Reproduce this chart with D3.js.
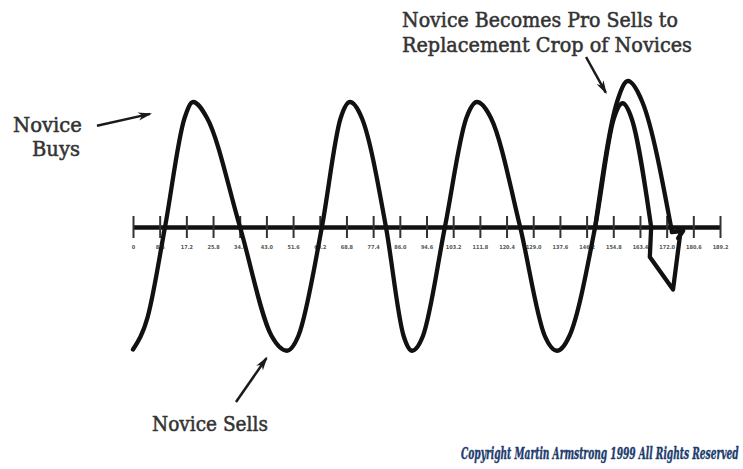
<!DOCTYPE html>
<html>
<head>
<meta charset="utf-8">
<script src="https://cdn.jsdelivr.net/npm/d3@7/dist/d3.min.js"></script>
<style>
  html, body { margin: 0; padding: 0; background: #fff; }
  svg { display: block; }
</style>
</head>
<body>
<svg id="chart" width="743" height="469"></svg>
<script>
// Cycle positions along the time axis (tick index units)
const tickIndex = [0,1,2,3,4,5,6,7,8,9,10,11,12,13,14,15,16,17,18,19,20,21,22];
const tickLabels = ["0","8.6","17.2","25.8","34.4","43.0","51.6","60.2","68.8","77.4","86.0",
  "94.6","103.2","111.8","120.4","129.0","137.6","146.2","154.8","163.4","172.0","180.6","189.2"];

// Main swing: turning points, shoulders and axis crossings (position, relative amplitude)
const waveU = [0, 0.55, 1.20, 1.93, 2.25, 2.78, 4.01, 5.19, 5.77, 6.20, 7.08, 7.78, 8.13, 8.58,
  9.48, 10.14, 10.46, 10.87, 11.69, 12.49, 12.89, 13.42, 14.51, 15.43, 15.89, 16.36, 17.32,
  18.01, 18.35, 18.70, 19.42];
const waveV = [-0.98, -0.72, 0, 0.87, 1.0, 0.87, 0, -0.87, -0.99, -0.87, 0, 0.87, 1.0, 0.87,
  0, -0.87, -0.99, -0.87, 0, 0.87, 1.0, 0.87, 0, -0.87, -0.99, -0.87, 0,
  0.86, 0.99, 0.86, 0];

// Taller final swing (the novice turned professional)
const proU = [17.32, 18.14, 18.55, 19.09, 20.20];
const proV = [0, 1.0, 1.168, 1.0, -0.04];

// Hook closing the last swing back toward the axis
const tailU = [19.42, 19.37, 20.24, 20.50];
const tailV = [0, -0.24, -0.50, -0.07];
const hookU = [20.20, 20.62, 20.43];
const hookV = [-0.04, -0.03, -0.09];

// Pointer arrows: [fromU, fromV, toU, toV]
const arrowBuys  = [-1.35, 0.81, 0.64, 0.905];
const arrowSells = [3.86, -1.40, 5.00, -1.05];
const arrowPro   = [16.98, 1.36, 17.72, 1.075];

const svg = d3.select("#chart");
const x = d3.scaleLinear().domain([0, 22]).range([133, 720]);
const y = d3.scaleLinear().domain([-1, 1]).range([352, 102]);

svg.append("defs").append("marker")
  .attr("id", "head")
  .attr("viewBox", "0 0 14 10")
  .attr("refX", 12).attr("refY", 5)
  .attr("markerWidth", 14).attr("markerHeight", 10)
  .attr("markerUnits", "userSpaceOnUse")
  .attr("orient", "auto")
  .append("path")
  .attr("d", "M0,1 L14,5 L0,9 L4,5 Z")
  .attr("fill", "#1a1a1a");

// Time axis with ticks crossing the line
const axis = d3.axisBottom(x)
  .tickValues(tickIndex)
  .tickFormat((d, i) => tickLabels[i])
  .tickSizeOuter(0);

const gAxis = svg.append("g")
  .attr("transform", `translate(0,${y(0)})`)
  .call(axis);
gAxis.select(".domain")
  .attr("stroke", "#111").attr("stroke-width", 4.5);
gAxis.selectAll(".tick line")
  .attr("y1", -11).attr("y2", 11)
  .attr("stroke", "#333").attr("stroke-width", 2);
gAxis.selectAll(".tick text")
  .attr("y", 22).attr("dy", 0)
  .attr("fill", "#555")
  .attr("font-family", "DejaVu Sans Condensed, DejaVu Sans, sans-serif")
  .attr("font-weight", "bold")
  .attr("font-size", 5.5);

const lineMono = d3.line().x(d => x(d[0])).y(d => y(d[1])).curve(d3.curveMonotoneX);
const lineStraight = d3.line().x(d => x(d[0])).y(d => y(d[1]));

const stroke = sel => sel.attr("fill", "none").attr("stroke", "#111")
  .attr("stroke-width", 4.3).attr("stroke-linecap", "round").attr("stroke-linejoin", "round");

svg.append("path").datum(d3.zip(waveU, waveV)).attr("d", lineMono).call(stroke);
svg.append("path").datum(d3.zip(proU, proV)).attr("d", lineMono).call(stroke);
svg.append("path").datum(d3.zip(tailU, tailV)).attr("d", lineStraight).call(stroke);
svg.append("path").datum(d3.zip(hookU, hookV)).attr("d", lineStraight).call(stroke);

// Pointer arrows
[arrowBuys, arrowSells, arrowPro].forEach(a => {
  svg.append("line")
    .attr("x1", x(a[0])).attr("y1", y(a[1]))
    .attr("x2", x(a[2])).attr("y2", y(a[3]))
    .attr("stroke", "#1a1a1a").attr("stroke-width", 2.5)
    .attr("marker-end", "url(#head)");
});

// Text fitted to a given width by a horizontal scale about its left edge
function fitted(txt, px, py, width, opts) {
  const t = svg.append("text")
    .attr("x", 0).attr("y", 0)
    .style("font-family", opts.family)
    .style("font-size", opts.size + "px")
    .style("font-style", opts.style || "normal")
    .style("font-weight", opts.weight || "normal")
    .attr("fill", opts.color)
    .attr("stroke", opts.color).attr("stroke-width", opts.sw || 0)
    .text(txt);
  const w = t.node().getComputedTextLength();
  t.attr("transform", `translate(${px},${py}) scale(${width / w},1)`);
  return t;
}

const serif = "'DejaVu Serif Condensed', 'DejaVu Serif', serif";
const noteStyle = { family: serif, size: 21, color: "#333", sw: 0.5 };

fitted("Novice", 13, 132, 69, noteStyle);
fitted("Buys", 32, 156, 48, noteStyle);
fitted("Novice Sells", 152, 431, 116, noteStyle);
fitted("Novice Becomes Pro Sells to", 402, 27, 276, noteStyle);
fitted("Replacement Crop of Novices", 402, 52, 290, noteStyle);

fitted("Copyright Martin Armstrong 1999 All Rights Reserved", 461, 459, 278,
  { family: serif, size: 17, style: "italic", weight: "bold", color: "#1d3c6e", sw: 0.4 });
</script>
</body>
</html>
